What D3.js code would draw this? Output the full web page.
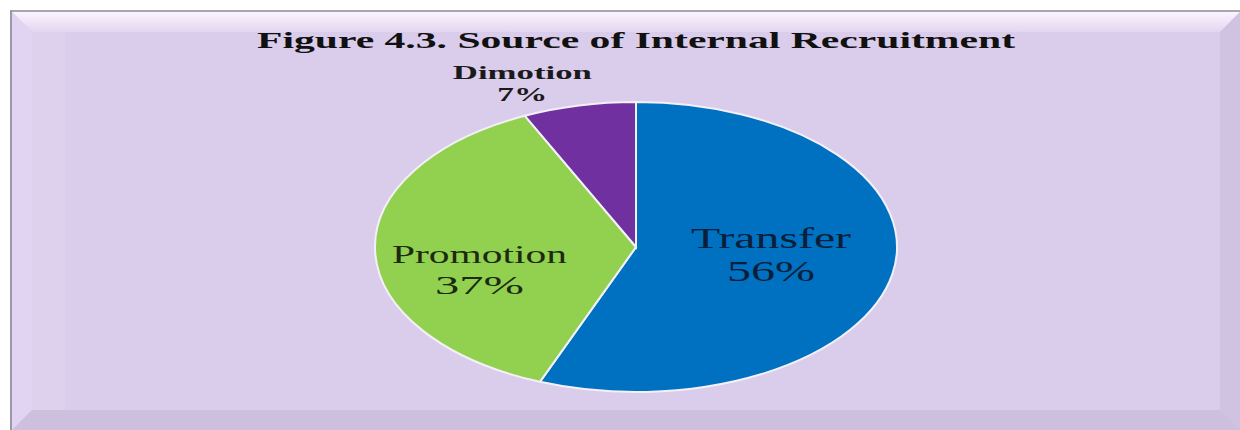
<!DOCTYPE html>
<html>
<head>
<meta charset="utf-8">
<script src="https://cdn.jsdelivr.net/npm/d3@7"></script>
<style>
	body { margin: 0; background: #fff; }
	svg { display: block; }
	text { font-family: "Liberation Serif", "Times New Roman", serif; }
</style>
</head>
<body>
<div id="chart"></div>
<script>
var titleText = "Figure 4.3. Source of Internal Recruitment";
var categories = ["Transfer", "Promotion", "Dimotion"];
var percents = [56, 37, 7];
var colors = ["#0070C0", "#92D050", "#7030A0"];

(function(d3) {

	var W = 1240, H = 430;
	var cx = 636, cy = 247, ry = 145, sx = 1.8;	// pie is stretched sideways, like the source picture

	var svg = d3.select("#chart").append("svg").attr("width", W).attr("height", H);
	var defs = svg.append("defs");

	var gTop = defs.append("linearGradient").attr("id", "gTop").attr("x1", 0).attr("y1", 0).attr("x2", 0).attr("y2", 1);
	gTop.append("stop").attr("offset", "0%").attr("stop-color", "#FBF4FF");
	gTop.append("stop").attr("offset", "100%").attr("stop-color", "#E2D6F0");

	// frame
	svg.append("rect").attr("x", 10).attr("y", 10).attr("width", W - 10).attr("height", H - 10).attr("fill", "#DACCEB");
	svg.append("line").attr("x1", 10).attr("x2", W).attr("y1", 11).attr("y2", 11).attr("stroke", "#A9A6AD").attr("stroke-width", 2);
	svg.append("line").attr("x1", 11).attr("x2", 11).attr("y1", 10).attr("y2", H).attr("stroke", "#9C98A6").attr("stroke-width", 2);

	var bw = 20, x0 = 12, y0 = 12, x1 = W, y1 = H;
	var bevel = [
		{ pts: [[x0, y0], [x1, y0], [x1 - bw, y0 + bw], [x0 + bw, y0 + bw]], fill: "url(#gTop)" },
		{ pts: [[x0, y0], [x0 + bw, y0 + bw], [x0 + bw, y1 - bw], [x0, y1]], fill: "#E1D4F2" },
		{ pts: [[x1, y0], [x1 - bw, y0 + bw], [x1 - bw, y1 - bw], [x1, y1]], fill: "#D0C2E1" },
		{ pts: [[x0, y1], [x0 + bw, y1 - bw], [x1 - bw, y1 - bw], [x1, y1]], fill: "#CEBFDF" }
	];
	svg.append("g").selectAll("polygon").data(bevel).enter().append("polygon")
		.attr("points", function(d) { return d.pts.join(" "); })
		.attr("fill", function(d) { return d.fill; });
	// faint second step on the left side
	svg.append("rect").attr("x", x0 + bw).attr("y", y0 + bw).attr("width", 33).attr("height", y1 - y0 - 2 * bw)
		.attr("fill", "#fff").attr("opacity", 0.1);

	// pie
	var pie = d3.pie().sort(null).value(function(d) { return d; });
	var arcs = pie(percents);
	var arc = d3.arc().innerRadius(0).outerRadius(ry);

	var pieG = svg.append("g").attr("transform", "translate(" + cx + "," + cy + ") scale(" + sx + ",1)");
	pieG.selectAll("path").data(arcs).enter().append("path")
		.attr("d", arc)
		.attr("fill", function(d, i) { return colors[i]; })
		.attr("stroke", "#F4F0F8")
		.attr("stroke-width", 2)
		.attr("vector-effect", "non-scaling-stroke");

	// title
	svg.append("text").attr("x", cx).attr("y", 48).attr("text-anchor", "middle")
		.attr("font-size", 24).attr("font-weight", "bold").attr("fill", "#111")
		.attr("textLength", 758).attr("lengthAdjust", "spacingAndGlyphs")
		.text(titleText);

	// labels: inside slices from centroids, small slice outside
	var inArc = d3.arc().innerRadius(ry * 0.55).outerRadius(ry * 0.55);
	var outArc = d3.arc().innerRadius(ry * 1.17).outerRadius(ry * 1.17);
	var lab = [
		{ arc: inArc, dx: -6, dy: -14, size: 29, weight: "normal", fill: "#0B1F3A", gap: 33, w1: 160, w2: 88 },
		{ arc: inArc, dx: -13, dy: 13, size: 26, weight: "normal", fill: "#1C2A10", gap: 31, w1: 175, w2: 89 },
		{ arc: outArc, dx: -47, dy: -2, size: 19, weight: "bold", fill: "#1A1A1A", gap: 22, w1: 139, w2: 50 }
	];

	var labG = svg.append("g");
	arcs.forEach(function(a, i) {
		var c = lab[i].arc.centroid(a);
		var x = cx + c[0] * sx + lab[i].dx;
		var y = cy + c[1] + lab[i].dy;
		labG.append("text").attr("text-anchor", "middle")
			.attr("x", x).attr("y", y)
			.attr("font-size", lab[i].size).attr("font-weight", lab[i].weight).attr("fill", lab[i].fill)
			.attr("textLength", lab[i].w1).attr("lengthAdjust", "spacingAndGlyphs")
			.text(categories[i]);
		labG.append("text").attr("text-anchor", "middle")
			.attr("x", x).attr("y", y + lab[i].gap)
			.attr("font-size", lab[i].size).attr("font-weight", lab[i].weight).attr("fill", lab[i].fill)
			.attr("textLength", lab[i].w2).attr("lengthAdjust", "spacingAndGlyphs")
			.text(percents[i] + "%");
	});

})(d3);
</script>
</body>
</html>
